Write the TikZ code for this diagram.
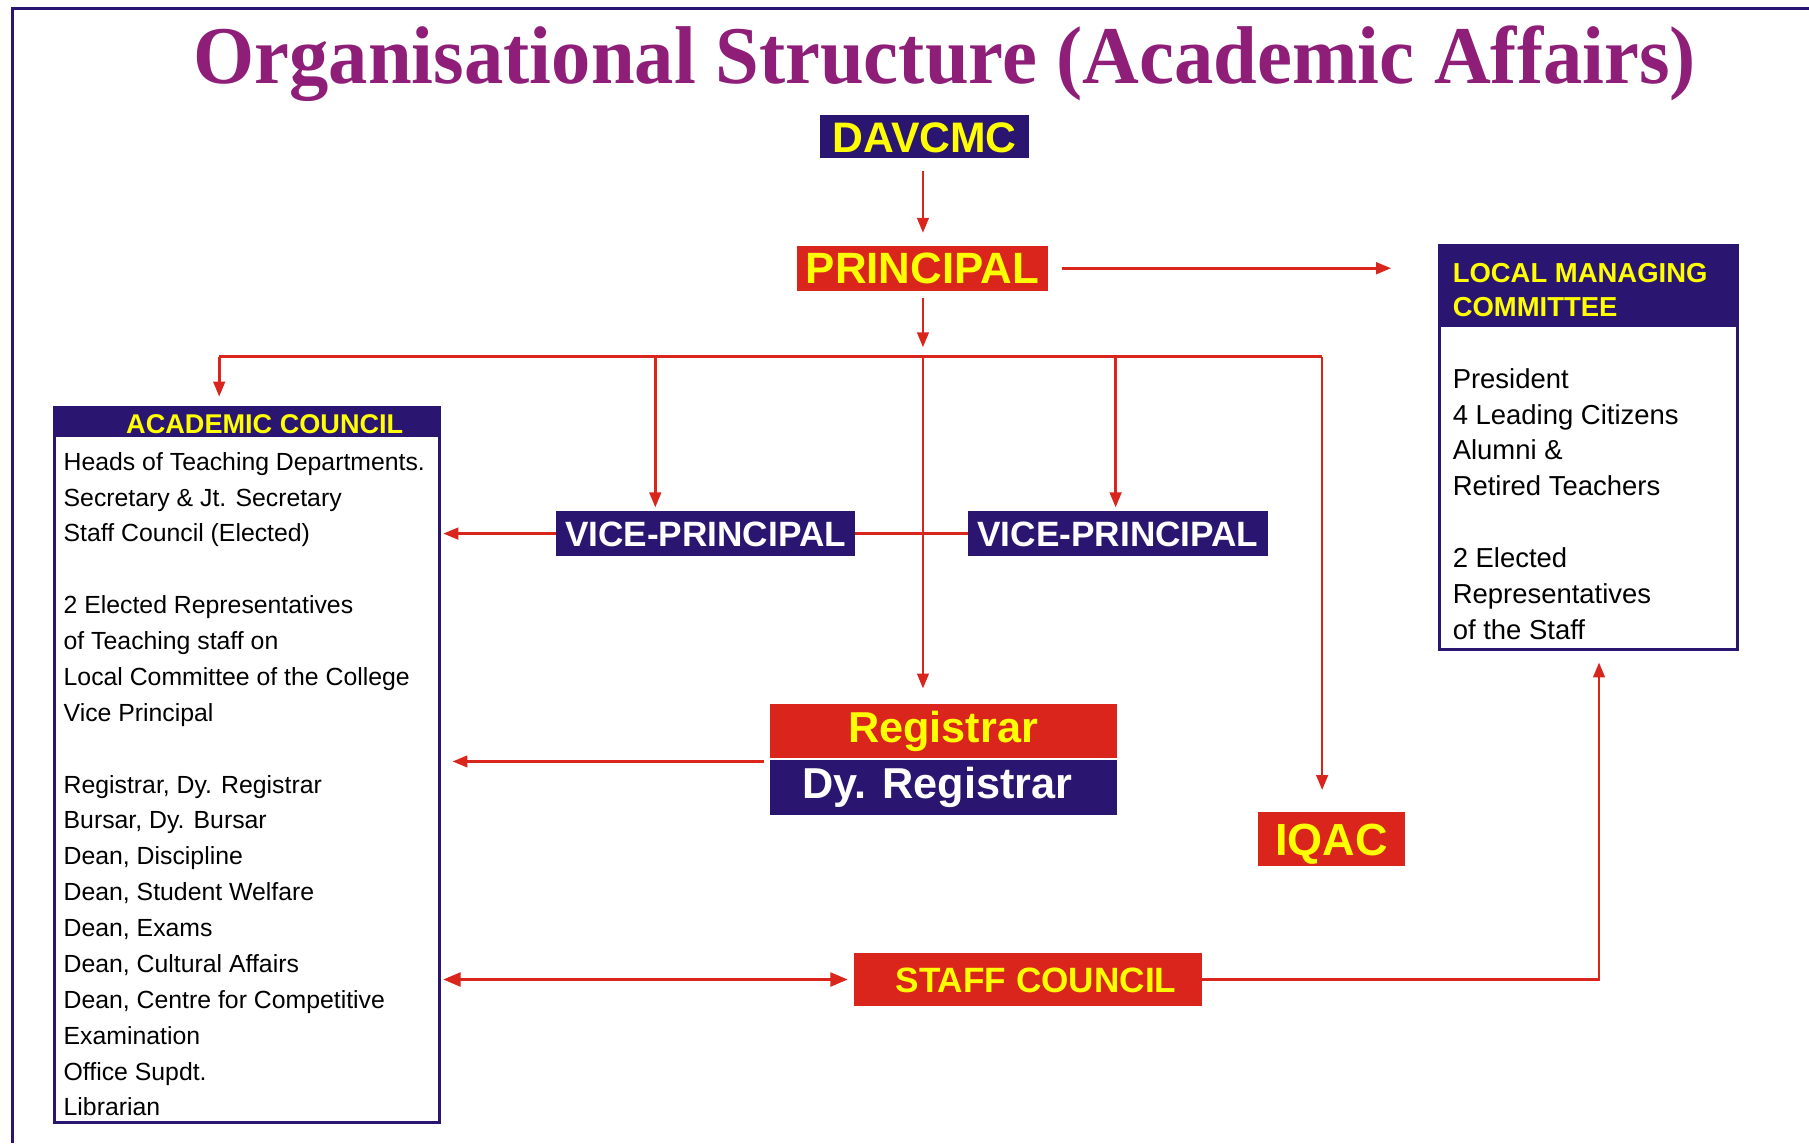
\documentclass[tikz,border=0pt]{standalone}
\usepackage{fontspec}
\setmainfont{Liberation Sans}
\newfontfamily\titlefont{Liberation Serif}
\usetikzlibrary{arrows.meta}
\definecolor{navy}{HTML}{2A1670}
\definecolor{redc}{HTML}{DA251D}
\definecolor{yel}{HTML}{FFFF00}
\definecolor{titlec}{HTML}{8E1E78}
\tikzset{
  box/.style={inner sep=0pt, text depth=0pt, font=\bfseries, anchor=center},
  navybox/.style={box, fill=navy},
  redbox/.style={box, fill=redc},
  frameline/.style={draw=navy, line width=2.6pt},
  conn/.style={draw=redc, line width=2.3pt},
  arr/.style={conn, -{Triangle[length=13pt,width=10pt]}},
  dblarr/.style={conn, {Triangle[length=15pt,width=12pt]}-{Triangle[length=15pt,width=12pt]}},
  actext/.style={inner sep=0pt, anchor=base west, font=\fontsize{21.5}{25}\selectfont, text=black},
  lmctext/.style={inner sep=0pt, anchor=base west, font=\fontsize{23.8}{28}\selectfont, text=black},
  headtext/.style={inner sep=0pt, anchor=base west, font=\fontsize{23.8}{28}\selectfont\bfseries, text=yel},
}
\begin{document}
\begin{tikzpicture}[x=1pt,y=-1pt]
\useasboundingbox (0,0) rectangle (1568,991);
\fill[white] (0,0) rectangle (1568,991);
% outer frame
\coordinate (fTL) at (11,7);
\coordinate (fTR) at (1568,7);
\coordinate (fBL) at (11,991);
\draw[frameline] (fTR) -- (fTL) -- (fBL);

% title
\node[inner sep=0pt, anchor=base, text=titlec] (title) at (819,72)
  {\resizebox{1302pt}{50pt}{\titlefont\bfseries Organisational Structure (Academic Affairs)}};

% main boxes
\node[navybox, minimum width=181pt, minimum height=37pt, text=yel,
      font=\fontsize{37}{40}\selectfont\bfseries, text height=26.5pt] (dav) at (801.5,118.5) {DAVCMC};
\node[redbox, minimum width=217pt, minimum height=39pt, text=yel,
      font=\fontsize{38}{40}\selectfont\bfseries, text height=27.2pt] (prin) at (799.5,232.5) {PRINCIPAL};
\node[navybox, minimum width=259pt, minimum height=39pt, text=white,
      font=\fontsize{30.5}{33}\selectfont\bfseries, text height=21.8pt] (vp1) at (611.5,462.5) {VICE-PRINCIPAL};
\node[navybox, minimum width=260pt, minimum height=39pt, text=white,
      font=\fontsize{30.5}{33}\selectfont\bfseries, text height=21.8pt] (vp2) at (969,462.5) {VICE-PRINCIPAL};
\node[redbox, minimum width=301pt, minimum height=47pt, text=yel,
      font=\fontsize{37.5}{40}\selectfont\bfseries, text height=26.9pt] (reg) at (817.5,633.5) {\raisebox{3pt}{Registrar}};
\node[navybox, minimum width=301pt, minimum height=47pt, text=white,
      font=\fontsize{37.5}{40}\selectfont\bfseries, text height=26.9pt] (dyreg) at (817.5,682.5) {\raisebox{4pt}{Dy. Registrar\hspace{10pt}}};
\node[redbox, minimum width=128pt, minimum height=47pt, text=yel,
      font=\fontsize{39}{42}\selectfont\bfseries, text height=28pt] (iqac) at (1154,727.5) {IQAC};
\node[redbox, minimum width=302pt, minimum height=46pt, text=yel,
      font=\fontsize{30.5}{33}\selectfont\bfseries, text height=21.8pt] (staff) at (891,849) {\hspace{14pt}STAFF COUNCIL};

% academic council
\node[draw=navy, line width=2.4pt, fill=white, minimum width=334pt, minimum height=620pt, inner sep=0pt] (acad) at (214,663) {};
\node[fill=navy, minimum width=334pt, minimum height=27pt, inner sep=0pt, anchor=north] (acadhead) at (acad.north) {};
\node[inner sep=0pt, anchor=base, font=\fontsize{23.5}{26}\selectfont\bfseries, text=yel] (acadtitle) at (229.5,375.5) {ACADEMIC COUNCIL};
\foreach \k/\t in {0/{Heads of Teaching Departments.}, 1/{Secretary \& Jt. Secretary}, 2/{Staff Council (Elected)},
  4/{2 Elected Representatives}, 5/{of Teaching staff on}, 6/{Local Committee of the College}, 7/{Vice Principal},
  9/{Registrar, Dy. Registrar}, 10/{Bursar, Dy. Bursar}, 11/{Dean, Discipline}, 12/{Dean, Student Welfare},
  13/{Dean, Exams}, 14/{Dean, Cultural Affairs}, 15/{Dean, Centre for Competitive}, 16/{Examination},
  17/{Office Supdt.}, 18/{Librarian}}
  \node[actext] (ac\k) at (55,407.5+31.1*\k) {\t};

% local managing committee
\node[draw=navy, line width=2.4pt, fill=white, minimum width=258pt, minimum height=350pt, inner sep=0pt] (lmc) at (1377,388) {};
\node[fill=navy, minimum width=258pt, minimum height=71pt, inner sep=0pt, anchor=north] (lmchead) at (lmc.north) {};
\node[headtext] (lmch1) at (1259,244.5) {LOCAL MANAGING};
\node[headtext] (lmch2) at (1259,274.5) {COMMITTEE};
\foreach \k/\t in {0/{President}, 1/{4 Leading Citizens}, 2/{Alumni \&}, 3/{Retired Teachers},
  5/{2 Elected}, 6/{Representatives}, 7/{of the Staff}}
  \node[lmctext] (lm\k) at (1259,336.5+31.1*\k) {\t};

% connectors
\coordinate (busL) at (190,309);
\coordinate (busR) at (1146,309);
\coordinate (busC) at (800,309);
\coordinate (bus1) at (568,309);
\coordinate (bus2) at (967,309);
\coordinate (turn) at (1386,849);
\coordinate (regL) at (662,660);

\draw[arr, shorten <=11pt, shorten >=11pt] (dav.south -| busC) -- (prin.north -| busC);
\draw[arr, shorten <=12pt, shorten >=41pt] (prin.east) -- (prin.east -| lmc.west);
\draw[arr, shorten <=6pt, shorten >=8pt] (prin.south -| busC) -- (busC);
\draw[conn] (busL) -- (busR);
\draw[arr, shorten >=8pt] (busL) -- (busL |- acad.north);
\draw[arr, shorten >=3pt] (bus1) -- (bus1 |- vp1.north);
\draw[arr, shorten >=3pt] (bus2) -- (bus2 |- vp2.north);
\draw[arr, shorten >=13pt] (busC) -- (busC |- reg.north);
\draw[arr, shorten >=19pt] (busR) -- (busR |- iqac.north);
\draw[conn] (vp1.east) -- (vp2.west);
\draw[arr, shorten >=2pt] (vp1.west) -- (vp1.west -| acad.east);
\draw[arr, shorten >=10pt] (regL) -- (regL -| acad.east);
\draw[dblarr, shorten <=2pt, shorten >=5pt] (staff.west -| acad.east) -- (staff.west);
\draw[arr, shorten >=10pt] (staff.east) -- (turn) -- (turn |- lmc.south);
\end{tikzpicture}
\end{document}
